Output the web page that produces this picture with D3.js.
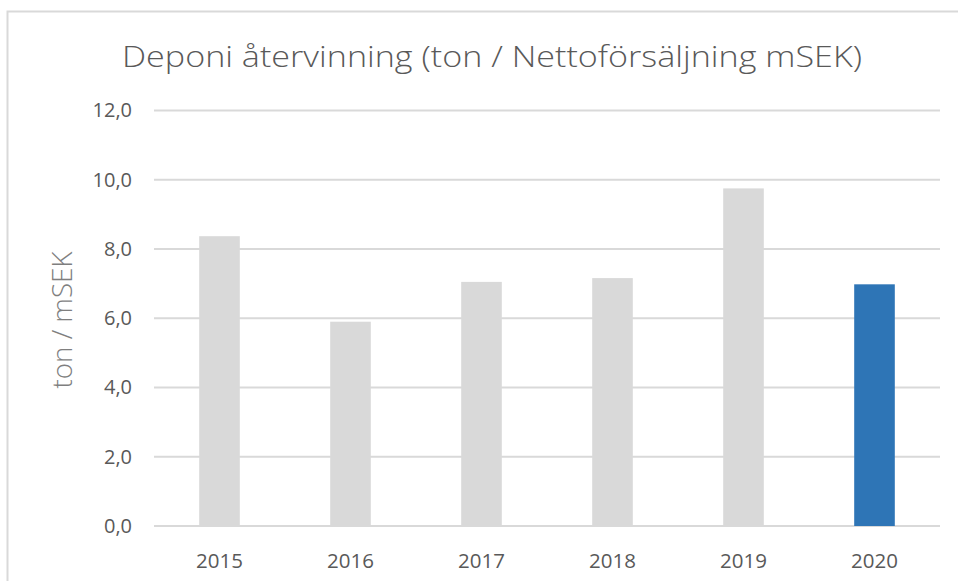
<!DOCTYPE html>
<html>
<head>
<meta charset="utf-8">
<script src="https://cdn.jsdelivr.net/npm/d3@7"></script>
<style>
  html, body { margin: 0; padding: 0; background: #fff; }
  svg { display: block; }
</style>
</head>
<body>
<div id="chart"></div>
<script>
// data
const years = ['2015', '2016', '2017', '2018', '2019', '2020'];
const values = [8.37, 5.9, 7.05, 7.16, 9.75, 6.98];
const yTicks = [0, 2, 4, 6, 8, 10, 12];
const titleText = 'Deponi återvinning (ton / Nettoförsäljning mSEK)';
const yTitle = 'ton / mSEK';

const width = 958, height = 581;
const margin = {top: 110.5, right: 18, bottom: 55, left: 154};
const fontFam = '"Open Sans", "Noto Sans", sans-serif';
const textColor = '#595959';

const svg = d3.select('#chart').append('svg')
  .attr('width', width)
  .attr('height', height);

// chart frame
svg.append('rect')
  .attr('x', 7.5).attr('y', 11.5)
  .attr('width', 960).attr('height', 600)
  .style('fill', 'none')
  .style('stroke', '#d9d9d9')
  .style('stroke-width', 2);

const x = d3.scaleBand()
  .domain(years)
  .range([margin.left, width - margin.right])
  .paddingInner(0.69)
  .paddingOuter(0.345);

const y = d3.scaleLinear()
  .domain([0, 12])
  .range([526, margin.top]);

// gridlines
svg.append('g')
  .selectAll('line')
  .data(yTicks)
  .enter().append('line')
    .attr('x1', margin.left)
    .attr('x2', width - margin.right)
    .attr('y1', d => y(d))
    .attr('y2', d => y(d))
    .style('stroke', '#d9d9d9')
    .style('stroke-width', 2);

// bars
svg.append('g')
  .selectAll('rect')
  .data(values)
  .enter().append('rect')
    .attr('x', (d, i) => x(years[i]))
    .attr('width', x.bandwidth())
    .attr('y', d => y(d))
    .attr('height', d => y(0) - y(d))
    .style('fill', (d, i) => i == years.length - 1 ? '#2e75b6' : '#d9d9d9');

// y axis labels
const yAxis = svg.append('g')
  .attr('transform', `translate(135,0)`)
  .call(d3.axisLeft(y).tickValues(yTicks).tickSize(0).tickFormat(d => d3.format('.1f')(d).replace('.', ',')));
yAxis.select('.domain').remove();
yAxis.selectAll('text')
  .style('font-family', fontFam)
  .style('font-size', '20px')
  .style('fill', textColor);

// x axis labels
const xAxis = svg.append('g')
  .attr('transform', `translate(0,${y(0) + 24})`)
  .call(d3.axisBottom(x).tickSize(0));
xAxis.select('.domain').remove();
xAxis.selectAll('text')
  .style('font-family', fontFam)
  .style('font-size', '20.5px')
  .style('fill', textColor);

// title
svg.append('text')
  .attr('x', 492)
  .attr('y', 67)
  .attr('text-anchor', 'middle')
  .attr('textLength', 740)
  .attr('lengthAdjust', 'spacingAndGlyphs')
  .style('font-family', fontFam)
  .style('font-size', '30px')
  .style('font-weight', 300)
  .style('fill', textColor)
  .text(titleText);

// y axis title
svg.append('text')
  .attr('transform', 'translate(72,320)rotate(-90)')
  .attr('text-anchor', 'middle')
  .attr('textLength', 137)
  .attr('lengthAdjust', 'spacingAndGlyphs')
  .style('font-family', fontFam)
  .style('font-size', '27px')
  .style('font-weight', 300)
  .style('fill', '#7f7f7f')
  .text(yTitle);
</script>
</body>
</html>
